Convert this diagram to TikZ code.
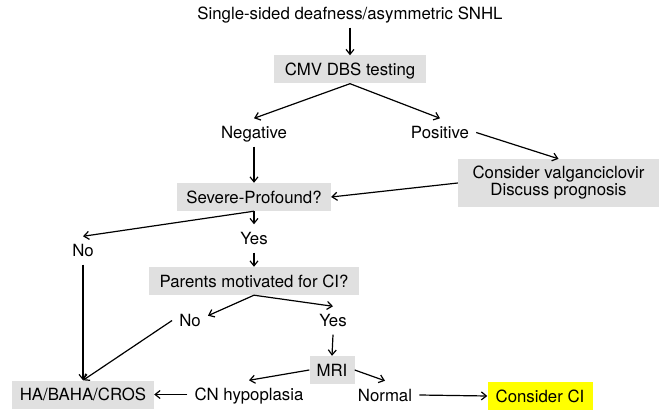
\documentclass[tikz,border=0pt]{standalone}
\usepackage{fontspec}
\setmainfont{TeX Gyre Heros}
\usetikzlibrary{arrows.meta}
\definecolor{boxgray}{HTML}{E0E0E0}
\definecolor{ciyellow}{HTML}{FFFF00}
\tikzset{gbox/.style={fill=boxgray,inner xsep=7pt,inner ysep=0pt,minimum height=28pt},box/.style={gbox,text height=13pt,text depth=1pt},lbl/.style={inner xsep=7pt,inner ysep=7pt,text height=13pt,text depth=1pt},arr/.style={->,>={Straight Barb[length=5pt,width=8pt]},line width=1.2pt}}

\begin{document}
\begin{tikzpicture}[x=1pt,y=-1pt,font=\fontsize{16.8}{20}\selectfont]
\useasboundingbox(0,0)rectangle(662,412);
\node[lbl](ssd)at(350,13.5){Single-sided deafness/asymmetric SNHL};
\node[box,minimum width=152pt](cmv)at(350,69.5){CMV DBS testing};
\node[lbl](neg)at(254,132.5){Negative};\node[lbl](pos)at(440,132.5){Positive};
\node[gbox,align=center,minimum width=201pt,minimum height=48pt,font=\fontsize{16.8}{15}\selectfont](valg)at(558.5,183){Consider valganciclovir\\Discuss prognosis};
\node[box,minimum width=154pt](sev)at(254,197){Severe-Profound?};
\node[lbl](no1)at(83,250.5){No};\node[lbl](yes1)at(254,238.5){Yes};
\node[box,minimum width=210pt](par)at(254,281){Parents motivated for CI?};
\node[lbl](no2)at(190,320.5){No};\node[lbl](yes2)at(333,320.5){Yes};
\node[box,minimum width=45pt](mri)at(332,370){MRI};
\node[box,minimum width=142pt](ha)at(83,394.5){HA/BAHA/CROS};
\node[lbl](cn)at(249,394.5){CN hypoplasia};\node[lbl](nor)at(385,395){Normal};
\node[box,fill=ciyellow,minimum width=105pt](ci)at(540,396){Consider CI};
\foreach\a/\b in{ssd/cmv,neg/sev,sev/yes1,yes1/par,yes2/mri,no1/ha,sev/no1,par/yes2}\draw[arr](\a.south)--(\b.north);
\foreach\b in{neg,pos}\draw[arr](cmv.south)--(\b.north);
\draw[arr](pos.east)--(valg.north);\draw[arr](valg.west)--(sev.east);
\draw[arr](par.south)--(no2.15);\draw[arr](no2.west)--(ha.north);
\draw[arr](mri.west)--(cn.north);\draw[arr](mri.east)--(nor.north);
\draw[arr](cn.west)--(ha.east);\draw[arr](nor.east)--(ci.west);
\end{tikzpicture}
\end{document}
